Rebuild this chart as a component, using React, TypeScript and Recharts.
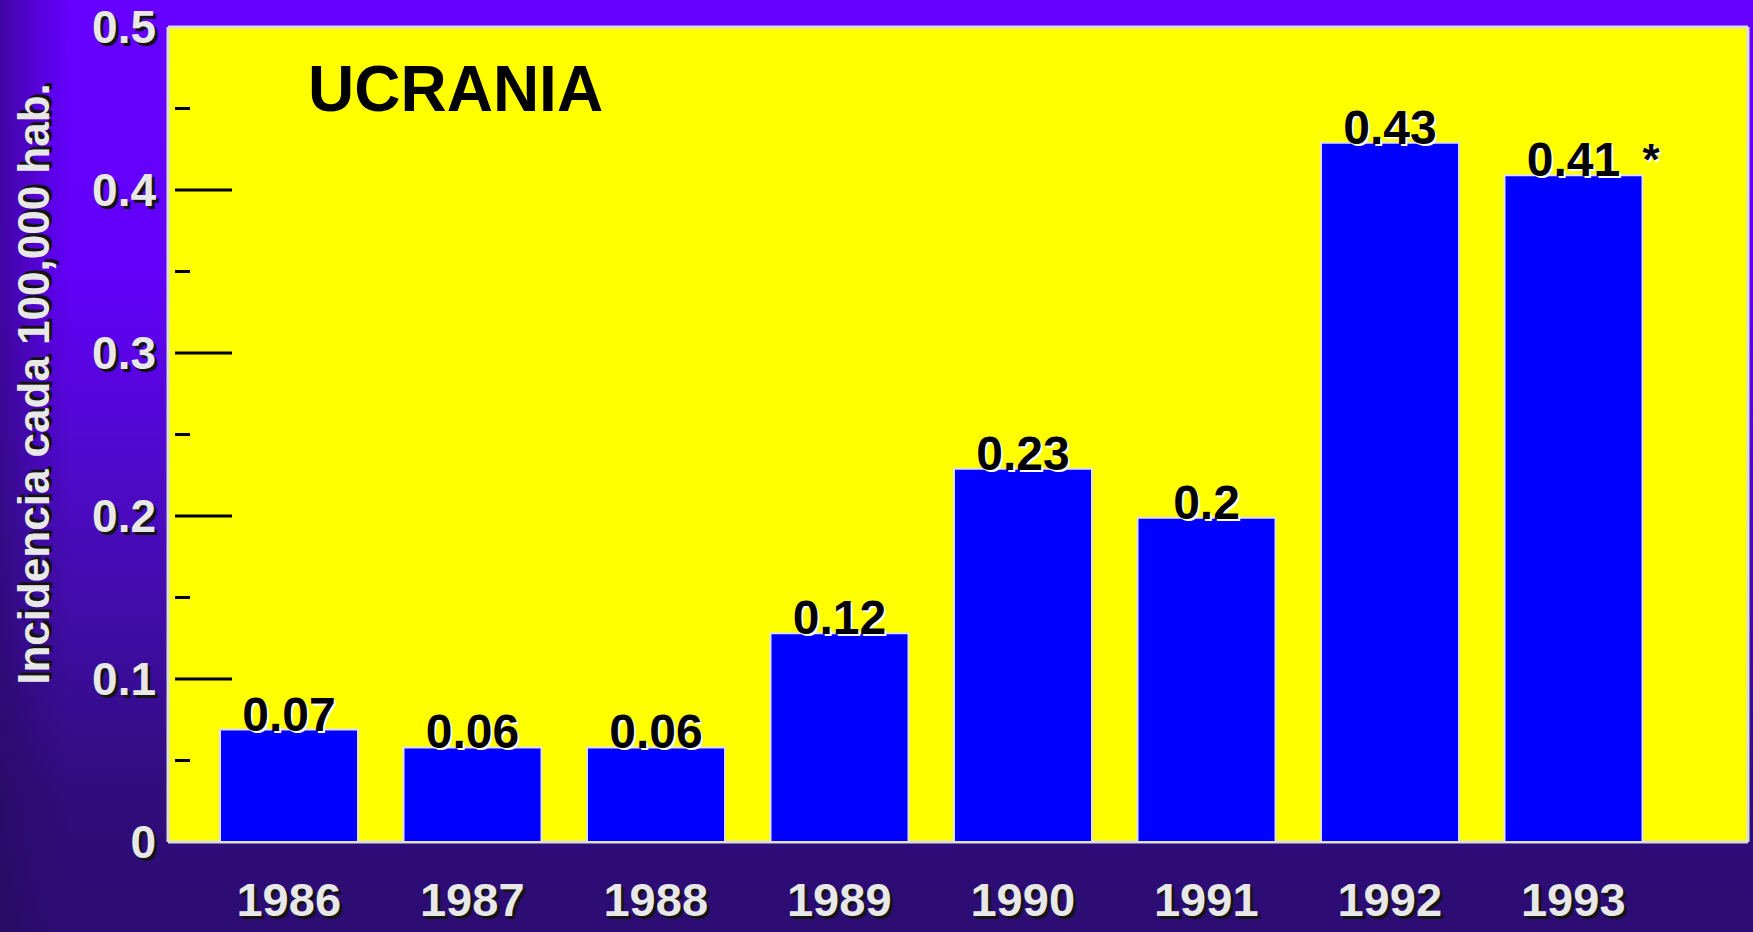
import React from 'react';
import { BarChart, Bar, XAxis, YAxis, CartesianGrid, LabelList, Customized } from 'recharts';

const years = ['1986', '1987', '1988', '1989', '1990', '1991', '1992', '1993'];
// bar heights as drawn on the slide
const incidence = [0.069, 0.058, 0.058, 0.128, 0.229, 0.199, 0.429, 0.409];
// the printed value labels
const valueLabels = ['0.07', '0.06', '0.06', '0.12', '0.23', '0.2', '0.43', '0.41'];
const notes = ['', '', '', '', '', '', '', '*'];
const yTicks = [0, 0.05, 0.1, 0.15, 0.2, 0.25, 0.3, 0.35, 0.4, 0.45, 0.5];

const chartTitle = 'UCRANIA';
const yTitle = 'Incidencia cada 100,000 hab.';

const data = years.map((year, i) => ({ year, value: incidence[i] }));

const FONT = '"Liberation Sans", Arial, sans-serif';

// white text with a dark drop shadow, like the slide's axis labels
const ShadowText = ({ x, y, anchor, size, children, transform }: any) => (
  <g transform={transform}>
    <text x={x + 3} y={y + 3} textAnchor={anchor} fontSize={size} fontWeight="bold" fontFamily={FONT} fill="#141414">
      {children}
    </text>
    <text x={x} y={y} textAnchor={anchor} fontSize={size} fontWeight="bold" fontFamily={FONT} fill="#e8e8e8">
      {children}
    </text>
  </g>
);

const YTick = (props: any) => {
  const { x, y, payload } = props;
  const v = payload.value;
  const major = Math.abs(Math.round(v * 10) - v * 10) < 1e-6;
  if (!major) {
    return <line x1={x + 7} x2={x + 22} y1={y} y2={y} stroke="#000" strokeWidth={3} />;
  }
  const showLine = v > 0 && v < 0.5;
  return (
    <g>
      {showLine && <line x1={x + 7} x2={x + 64} y1={y} y2={y} stroke="#000" strokeWidth={3} />}
      <ShadowText x={x - 12} y={y + 16} anchor="end" size={46}>
        {String(v)}
      </ShadowText>
    </g>
  );
};

const XTick = (props: any) => {
  const { x, y, payload } = props;
  return (
    <ShadowText x={x} y={y + 66} anchor="middle" size={47}>
      {payload.value}
    </ShadowText>
  );
};

const ValueLabel = (props: any) => {
  const { x, y, width, index } = props;
  const cx = x + width / 2;
  const label = valueLabels[index];
  const note = notes[index];
  return (
    <g fontFamily={FONT} fontWeight="bold">
      <text x={cx + 2} y={y + 3} textAnchor="middle" fontSize={48} fill="#ffffff">{label}</text>
      <text x={cx} y={y + 1} textAnchor="middle" fontSize={48} fill="#000000">{label}</text>
      {note && (
        <g>
          <text x={cx + 71} y={y + 2} fontSize={44} fill="#ffffff">{note}</text>
          <text x={cx + 69} y={y} fontSize={44} fill="#000000">{note}</text>
        </g>
      )}
    </g>
  );
};

const Decorations = () => (
  <g>
    <text x={308} y={111} fontSize={64} fontWeight="bold" fontFamily={FONT} fill="#000">
      {chartTitle}
    </text>
    <ShadowText x={0} y={0} anchor="middle" size={44} transform="translate(49, 384) rotate(-90)">
      {yTitle}
    </ShadowText>
  </g>
);

export default function App() {
  return (
    <div
      style={{
        position: 'absolute',
        left: 0,
        top: 0,
        width: 1753,
        height: 932,
        background:
          'linear-gradient(to right, rgba(35,10,90,0.55) 0px, rgba(35,10,90,0.2) 40px, rgba(35,10,90,0) 70px), linear-gradient(to bottom, #6600ff 0%, #6200f8 30%, #4a0bbf 55%, #300d7c 85%, #2c0c72 100%)',
      }}
    >
      <BarChart
        width={1753}
        height={932}
        data={data}
        margin={{ top: 27, right: 5, bottom: 0, left: 0 }}
        barSize={138}
      >
        <CartesianGrid
          fill="#ffff00"
          stroke="#dcdcdc"
          strokeWidth={3}
          horizontalCoordinatesGenerator={({ offset }: any) => [offset.top, offset.top + offset.height]}
          verticalCoordinatesGenerator={({ offset }: any) => [offset.left, offset.left + offset.width]}
        />
        <XAxis
          dataKey="year"
          height={90}
          padding={{ left: 29, right: 83 }}
          axisLine={false}
          tickLine={false}
          tick={<XTick />}
          interval={0}
        />
        <YAxis
          width={168}
          domain={[0, 0.5]}
          ticks={yTicks}
          interval={0}
          axisLine={false}
          tickLine={false}
          tickSize={0}
          tickMargin={0}
          tick={<YTick />}
        />
        <Bar dataKey="value" fill="#0000ff" stroke="#e0e0e0" strokeWidth={2} isAnimationActive={false}>
          <LabelList dataKey="value" content={<ValueLabel />} />
        </Bar>
        <Customized component={Decorations} />
      </BarChart>
    </div>
  );
}
